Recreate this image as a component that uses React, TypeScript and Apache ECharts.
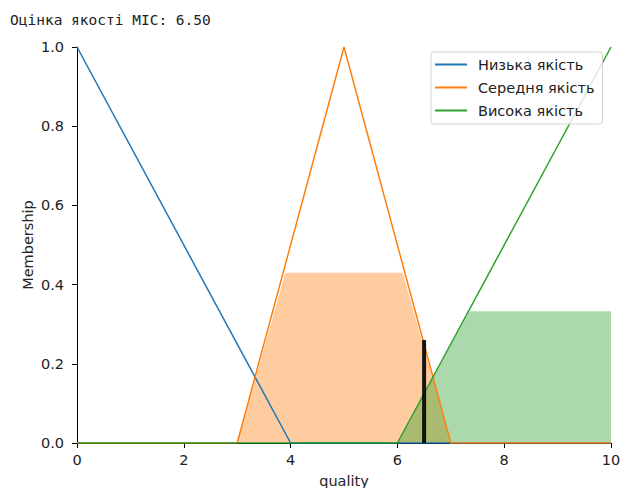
import React, { useEffect, useRef } from "react";
import * as echarts from "echarts";

const TITLE = "Оцінка якості MIC: 6.50";
const X_NAME = "quality";
const Y_NAME = "Membership";
const NAMES = ["Низька якість", "Середня якість", "Висока якість"];
const COLORS = ["#1f77b4", "#ff7f0e", "#2ca02c"];

// membership function vertices (x, membership)
const lowMf: [number, number][] = [[0, 1], [4, 0], [10, 0]];
const midMf: [number, number][] = [[0, 0], [3, 0], [5, 1], [7, 0], [10, 0]];
const highMf: [number, number][] = [[0, 0], [6, 0], [10, 1]];

// activated (clipped) areas
const midFill: [number, number][] = [[3, 0], [3.9, 0.43], [6.1, 0.43], [7, 0]];
const highFill: [number, number][] = [[6, 0], [7.35, 0.333], [10, 0.333]];

// defuzzified result
const crisp: [number, number][] = [[6.5, 0], [6.5, 0.26]];

export default function App() {
  const ref = useRef<HTMLDivElement>(null);
  useEffect(() => {
    if (!ref.current) return;
    const chart = echarts.init(ref.current, null, { renderer: "svg" });
    const font = "DejaVu Sans";
    const fs = 14.5;
    const txt = "#222";
    const lineSeries = (name: string, data: [number, number][], color: string) => ({
      type: "line",
      name,
      data,
      symbol: "none",
      showSymbol: false,
      lineStyle: { color, width: 1.5 },
      itemStyle: { color },
      z: 3,
    });
    const fillSeries = (name: string, data: [number, number][], color: string) => ({
      type: "line",
      name,
      data,
      symbol: "none",
      showSymbol: false,
      lineStyle: { width: 0 },
      areaStyle: { color, opacity: 0.4 },
      itemStyle: { color },
      z: 2,
    });
    chart.setOption({
      animation: false,
      graphic: [
        {
          type: "text",
          left: 10,
          top: 12,
          style: { text: TITLE, fill: "#222", font: "14.5px 'DejaVu Sans Mono'" },
        },
      ],
      grid: { left: 77, right: 10, top: 47, bottom: 45, containLabel: false, outerBoundsMode: "none" },
      legend: {
        data: NAMES,
        orient: "vertical",
        left: 431,
        top: 52,
        icon: "rect",
        itemWidth: 32,
        itemHeight: 2,
        itemGap: 6,
        padding: [4, 8, 5, 4],
        borderColor: "#d4d4d4",
        borderWidth: 1,
        borderRadius: 3,
        backgroundColor: "rgba(255,255,255,0.8)",
        textStyle: { fontFamily: font, fontSize: fs, color: txt, lineHeight: 17, padding: [0, 0, 0, 6] },
      },
      xAxis: {
        type: "value",
        min: 0,
        max: 10,
        interval: 2,
        name: X_NAME,
        nameLocation: "middle",
        nameGap: 30,
        nameMoveOverlap: false,
        nameTextStyle: { fontFamily: font, fontSize: fs, color: txt },
        axisLine: { lineStyle: { color: "#000", width: 1 } },
        axisTick: { show: true, length: 5, lineStyle: { color: "#000" } },
        axisLabel: { fontFamily: font, fontSize: fs, color: txt, margin: 9 },
        splitLine: { show: false },
      },
      yAxis: {
        type: "value",
        min: 0,
        max: 1,
        interval: 0.2,
        name: Y_NAME,
        nameLocation: "middle",
        nameRotate: 90,
        nameGap: 42,
        nameMoveOverlap: false,
        nameTextStyle: { fontFamily: font, fontSize: fs, color: txt },
        axisLine: { show: true, lineStyle: { color: "#000", width: 1 } },
        axisTick: { show: true, length: 5, lineStyle: { color: "#000" } },
        axisLabel: { fontFamily: font, fontSize: fs, color: txt, margin: 13, formatter: (v: number) => v.toFixed(1) },
        splitLine: { show: false },
      },
      series: [
        fillSeries("mid-fill", midFill, COLORS[1]),
        fillSeries("high-fill", highFill, COLORS[2]),
        lineSeries(NAMES[0], lowMf, COLORS[0]),
        lineSeries(NAMES[1], midMf, COLORS[1]),
        lineSeries(NAMES[2], highMf, COLORS[2]),
        {
          type: "line",
          name: "crisp",
          data: crisp,
          symbol: "none",
          lineStyle: { color: "#000", width: 4, opacity: 0.9 },
          z: 4,
        },
      ],
    });
    return () => chart.dispose();
  }, []);
  return (
    <div
      ref={ref}
      style={{ position: "fixed", left: 0, top: 0, width: 621, height: 488, background: "#fff" }}
    />
  );
}
